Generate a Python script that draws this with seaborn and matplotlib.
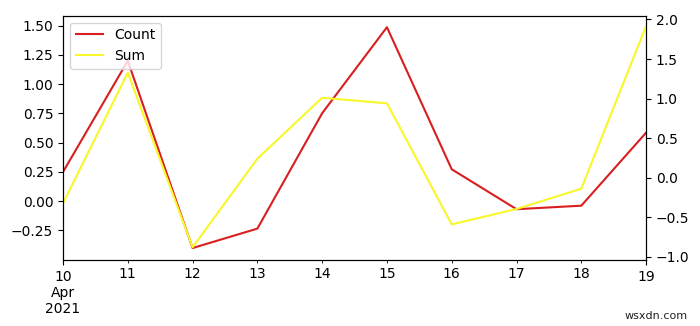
import matplotlib
matplotlib.use("Agg")
import matplotlib.pyplot as plt
import matplotlib.dates as mdates
from matplotlib.ticker import FixedLocator, FixedFormatter
import seaborn as sns
import pandas as pd

dates = ["2021-04-10", "2021-04-11", "2021-04-12", "2021-04-13", "2021-04-14",
         "2021-04-15", "2021-04-16", "2021-04-17", "2021-04-18", "2021-04-19"]
count = [0.25, 1.20, -0.40, -0.234, 0.752, 1.487, 0.273, -0.068, -0.038, 0.586]
sums = [-0.324, 1.327, -0.88, 0.24, 1.01, 0.94, -0.59, -0.396, -0.139, 1.918]
major_labels = ["10\nApr\n2021", "19"]
minor_labels = ["11", "12", "13", "14", "15", "16", "17", "18"]

df = pd.DataFrame({"date": pd.to_datetime(dates), "Count": count, "Sum": sums})
df["x"] = mdates.date2num(df["date"])

fig = plt.figure(figsize=(7.0, 3.26), dpi=100)
ax = fig.add_axes([0.09, 0.2025, 0.833, 0.7495])
sns.lineplot(data=df, x="x", y="Count", ax=ax, color="#d81e1e", lw=1.5, label="Count", legend=False)
ax2 = ax.twinx()
sns.lineplot(data=df, x="x", y="Sum", ax=ax2, color="#f7f72a", lw=1.5, label="Sum", legend=False)

xs = list(df["x"])
ax.set_xlim(xs[0], xs[-1])
ax.xaxis.set_major_locator(FixedLocator([xs[0], xs[-1]]))
ax.xaxis.set_major_formatter(FixedFormatter(major_labels))
ax.xaxis.set_minor_locator(FixedLocator(xs[1:-1]))
ax.xaxis.set_minor_formatter(FixedFormatter(minor_labels))
ax.set_xlabel("")
ax.set_ylabel("")
ax2.set_ylabel("")

ax.set_yticks([-0.25, 0.0, 0.25, 0.5, 0.75, 1.0, 1.25, 1.5])
ax.set_ylim(-0.502, 1.586)
ax2.set_yticks([-1.0, -0.5, 0.0, 0.5, 1.0, 1.5, 2.0])
ax2.set_ylim(-1.04, 2.048)

h1, l1 = ax.get_legend_handles_labels()
h2, l2 = ax2.get_legend_handles_labels()
ax2.legend(h1 + h2, l1 + l2, loc="upper left")

fig.text(0.983, 0.03, "wsxdn.com", ha="right", va="center", fontsize=8, color="#222222")

fig.savefig("out.png", dpi=100)
